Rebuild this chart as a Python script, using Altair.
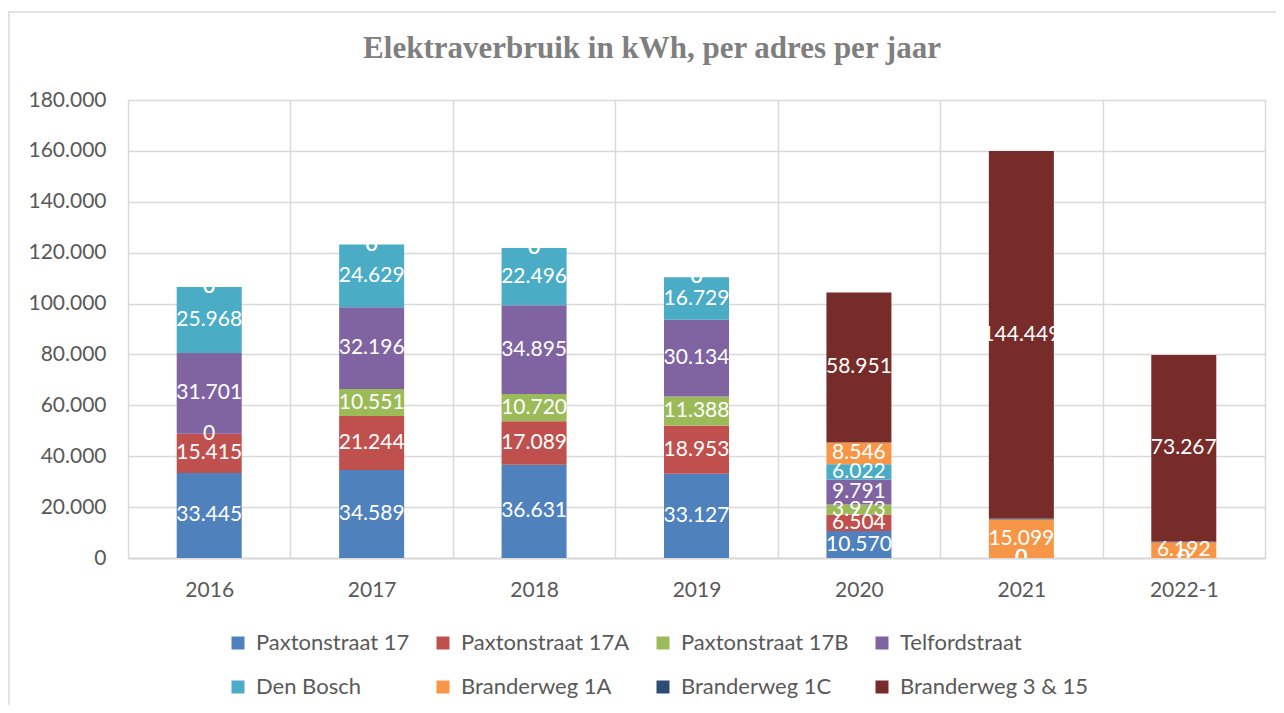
import altair as alt
import pandas as pd

years = ["2016", "2017", "2018", "2019", "2020", "2021", "2022-1"]
series_names = ["Paxtonstraat 17", "Paxtonstraat 17A", "Paxtonstraat 17B", "Telfordstraat",
                "Den Bosch", "Branderweg 1A", "Branderweg 1C", "Branderweg 3 & 15"]
series_colors = ["#4F81BD", "#C0504D", "#9BBB59", "#8064A2",
                 "#4BACC6", "#F79646", "#2C4D75", "#772C2A"]

paxton_17 = [33445, 34589, 36631, 33127, 10570, 0, 0]
paxton_17a = [15415, 21244, 17089, 18953, 6504, 0, 0]
paxton_17b = [0, 10551, 10720, 11388, 3973, 0, 0]
telford = [31701, 32196, 34895, 30134, 9791, 0, 0]
den_bosch = [25968, 24629, 22496, 16729, 6022, 0, 0]
branderweg_1a = [0, 0, 0, 0, 8546, 15099, 6192]
branderweg_1c = [None, None, None, None, None, 400, 300]
branderweg_3_15 = [0, 0, 0, 0, 58951, 144449, 73267]

y_ticks = [0, 20000, 40000, 60000, 80000, 100000, 120000, 140000, 160000, 180000]
title_text = "Elektraverbruik in kWh, per adres per jaar"

all_series = [paxton_17, paxton_17a, paxton_17b, telford,
              den_bosch, branderweg_1a, branderweg_1c, branderweg_3_15]
rows = []
for si, (name, vals) in enumerate(zip(series_names, all_series)):
    for yr, v in zip(years, vals):
        if v is not None:
            rows.append({"year": yr, "series": name, "order": si, "value": v})
df = pd.DataFrame(rows)

FONT = "Lato"
GREY = "#595959"
GRID = "#d9d9d9"
nl_fmt = "replace(format(datum.value, ','), ',', '.')"

base = alt.Chart(df).transform_stack(
    stack="value", groupby=["year"],
    sort=[alt.SortField("order", order="ascending")],
    as_=["v0", "v1"],
).transform_calculate(
    mid="(datum.v0 + datum.v1) / 2",
    lbl=nl_fmt,
)

x_enc = alt.X("year:N", sort=years,
              scale=alt.Scale(domain=years, paddingInner=0, paddingOuter=0),
              axis=alt.Axis(title=None, labelFont=FONT, labelFontSize=21, labelColor=GREY,
                            labelPadding=21, ticks=False, domain=True, domainColor=GRID,
                            domainWidth=2, grid=True, gridColor=GRID, gridWidth=1.5,
                            tickBand="extent", labelAngle=0))

bars = base.mark_bar(size=65).encode(
    x=x_enc,
    y=alt.Y("v0:Q", scale=alt.Scale(domain=[0, 180000], nice=False),
            axis=alt.Axis(title=None, values=y_ticks, labelExpr=nl_fmt,
                          labelFont=FONT, labelFontSize=21, labelColor=GREY,
                          labelPadding=22, ticks=False, domain=False,
                          grid=True, gridColor=GRID, gridWidth=1.5)),
    y2="v1:Q",
    color=alt.Color("series:N",
                    scale=alt.Scale(domain=series_names, range=series_colors),
                    legend=alt.Legend(title=None, orient="none", legendX=99, legendY=532,
                                      columns=4, direction="horizontal",
                                      symbolType="square", symbolSize=169,
                                      symbolStrokeWidth=0, labelFont=FONT,
                                      labelFontSize=22, labelColor=GREY,
                                      labelOffset=7, labelLimit=300,
                                      rowPadding=22, columnPadding=22,
                                      gridAlign="each")),
    order=alt.Order("order:Q"),
)

labels = base.transform_filter(
    "datum.series != 'Branderweg 1C'"
).mark_text(color="white", font=FONT, fontSize=21, clip=True).encode(
    x=alt.X("year:N", sort=years),
    y=alt.Y("mid:Q"),
    text="lbl:N",
)

single = alt.Data(values=[{"a": 1}])

border = alt.Chart(single).mark_rect(
    fillOpacity=0, stroke=GRID, strokeWidth=1.5
).encode(
    x=alt.value(-119), x2=alt.value(1170),
    y=alt.value(-88), y2=alt.value(640),
)

title = alt.Chart(single).mark_text(
    font="Liberation Serif", fontSize=31, fontWeight="bold", color="#7F7F7F",
    align="center", baseline="middle"
).encode(
    x=alt.value(524), y=alt.value(-51), text=alt.value(title_text),
)

chart = alt.layer(border, title, bars, labels).properties(
    width=1137, height=458,
    autosize=alt.AutoSizeParams(type="none"),
    padding={"left": 120, "top": 92, "right": 11, "bottom": 147},
).configure_view(
    stroke=GRID, strokeWidth=1.5, fill="#efefef"
).configure(background="white")

chart.save("out.html", embed_options={"renderer": "svg", "actions": False})
